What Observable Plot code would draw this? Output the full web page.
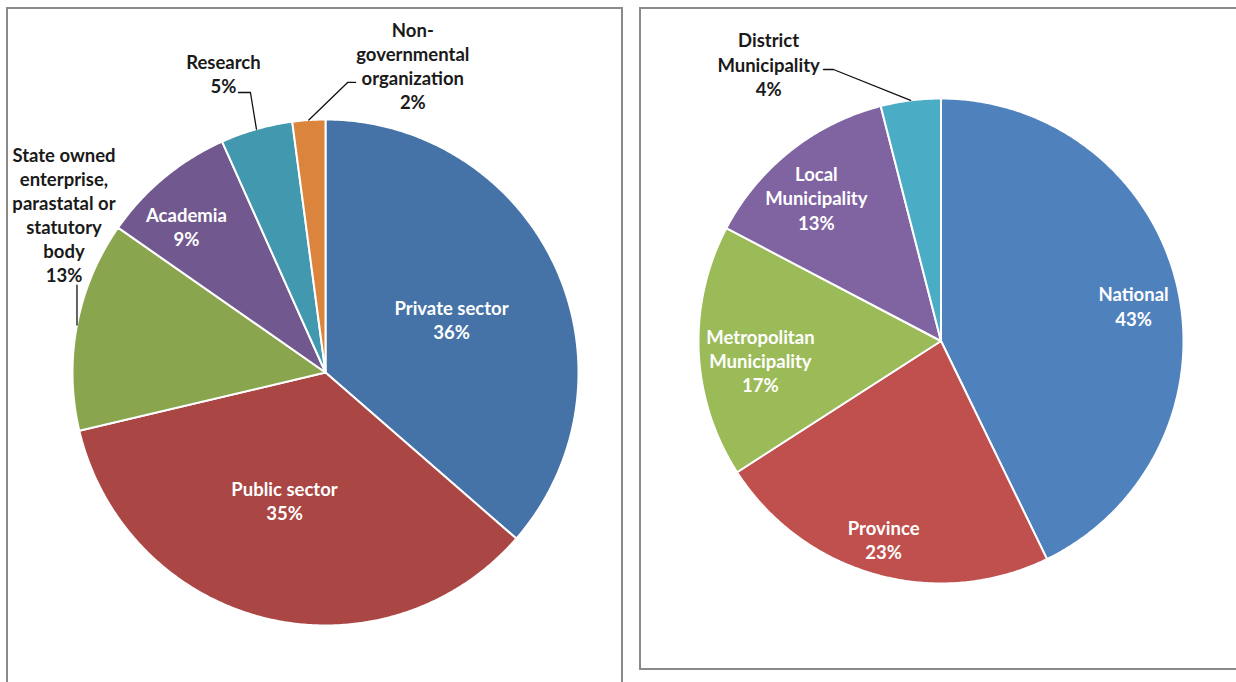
<!DOCTYPE html>
<html><head><meta charset="utf-8">
<script src="https://cdn.jsdelivr.net/npm/d3@7"></script>
<script src="https://cdn.jsdelivr.net/npm/@observablehq/plot@0.6"></script>
<style>
html,body{margin:0;padding:0;background:#fff;overflow:hidden;}
#wrap{position:relative;width:1236px;height:682px;overflow:hidden;background:#fff;}
#chart{position:absolute;left:0;top:0;}
.box{position:absolute;box-sizing:border-box;border:2px solid #8a8a8a;}
</style></head><body>
<div id="wrap"><div id="chart"></div>
<div class="box" style="left:6px;top:7px;width:617px;height:700px"></div>
<div class="box" style="left:639px;top:7px;width:620px;height:663px"></div>
</div>
<script>
// ---- data ----
const sectorCategories = ["Private sector","Public sector","State owned enterprise, parastatal or statutory body","Academia","Research","Non-governmental organization"];
const sectorLabels = ["Private sector","Public sector","State owned\nenterprise,\nparastatal or\nstatutory\nbody","Academia","Research","Non-\ngovernmental\norganization"];
const sectorShares = [36.4, 34.9, 13.4, 8.6, 4.6, 2.1];
const sectorColors = ["#4572A7","#AA4643","#89A54E","#71588F","#4198AF","#DB843D"];

const levelCategories = ["National","Province","Metropolitan Municipality","Local Municipality","District Municipality"];
const levelLabels = ["National","Province","Metropolitan\nMunicipality","Local\nMunicipality","District\nMunicipality"];
const levelShares = [42.8, 23.1, 16.8, 13.3, 4.0];
const levelColors = ["#4F81BD","#C0504D","#9BBB59","#8064A2","#4BACC6"];

// ---- layout (positions only) ----
const pies = [
  {id:"sector", cats:sectorCategories, labels:sectorLabels, values:sectorShares, cx:325, cy:372, r:253,
   place:[{k:.541,da:1.5},{k:.531,da:3.9},
          {out:true,dx:-13,dy:-111,leader:[[0,-40]]},
          {k:.797,da:-4},
          {out:true,dx:-33,dy:-55.6,leader:[[-6,-36.6],[-18,-36.6]]},
          {out:true,dx:104,dy:-55,leader:[[38.8,-37.6],[46.8,-37.6]]}]},
  {id:"level", cats:levelCategories, labels:levelLabels, values:levelShares, cx:940.5, cy:340.5, r:242.5,
   place:[{k:.807,da:2.6},{k:.850,da:0.5},{k:.749,da:-3.7},{k:.783,da:-2.7},
          {out:true,dx:-142,dy:-36.6,leader:[[-77.1,-30.9],[-87.1,-30.9]]}]}
];

const slicePts = [], leaderPts = [], inLabels = [], outLabels = [];
const deg = Math.PI/180;
for (const p of pies) {
  const total = d3.sum(p.values);
  const arcs = d3.pie().sort(null).value(d => d)(p.values);
  arcs.forEach((a, i) => {
    const key = p.id + i, cat = p.cats[i];
    slicePts.push({key, cat, x:p.cx, y:p.cy});
    const n = Math.max(2, Math.ceil((a.endAngle - a.startAngle)/deg*2));
    for (let j = 0; j <= n; j++) {
      const t = a.startAngle + (a.endAngle - a.startAngle)*j/n;
      slicePts.push({key, cat, x:p.cx + p.r*Math.sin(t), y:p.cy - p.r*Math.cos(t)});
    }
    slicePts.push({key, cat, x:p.cx, y:p.cy});
    const mid = (a.startAngle + a.endAngle)/2;
    const pl = p.place[i];
    const text = p.labels[i] + "\n" + Math.round(p.values[i]/total*100) + "%";
    if (pl.out) {
      const ex = p.cx + p.r*Math.sin(mid), ey = p.cy - p.r*Math.cos(mid);
      outLabels.push({x:ex+pl.dx, y:ey+pl.dy, text});
      leaderPts.push({key, x:ex, y:ey});
      for (const [ox, oy] of pl.leader) leaderPts.push({key, x:ex+ox, y:ey+oy});
    } else {
      const t = mid + pl.da*deg, rr = p.r*pl.k;
      inLabels.push({x:p.cx + rr*Math.sin(t), y:p.cy - rr*Math.cos(t), text});
    }
  });
}

const font = "Lato, 'Open Sans', sans-serif";
const chart = Plot.plot({
  width:1236, height:682, margin:0,
  x:{domain:[0,1236], range:[0,1236], axis:null},
  y:{domain:[0,682], range:[0,682], axis:null},
  color:{domain:[...sectorCategories, ...levelCategories], range:[...sectorColors, ...levelColors]},
  style:{background:"none"},
  marks:[
    Plot.line(slicePts, {x:"x", y:"y", z:"key", fill:"cat", stroke:"white", strokeWidth:2, curve:"linear"}),
    Plot.line(leaderPts, {x:"x", y:"y", z:"key", stroke:"#111", strokeWidth:1.3, curve:"linear"}),
    Plot.text(inLabels, {x:"x", y:"y", text:"text", fill:"white", fontSize:18.5, fontWeight:"bold", fontFamily:font, lineHeight:1.3, textAnchor:"middle"}),
    Plot.text(outLabels, {x:"x", y:"y", text:"text", fill:"#1a1a1a", fontSize:18.5, fontWeight:"bold", fontFamily:font, lineHeight:1.3, textAnchor:"middle"})
  ]
});
document.getElementById("chart").appendChild(chart);
</script>
</body></html>
